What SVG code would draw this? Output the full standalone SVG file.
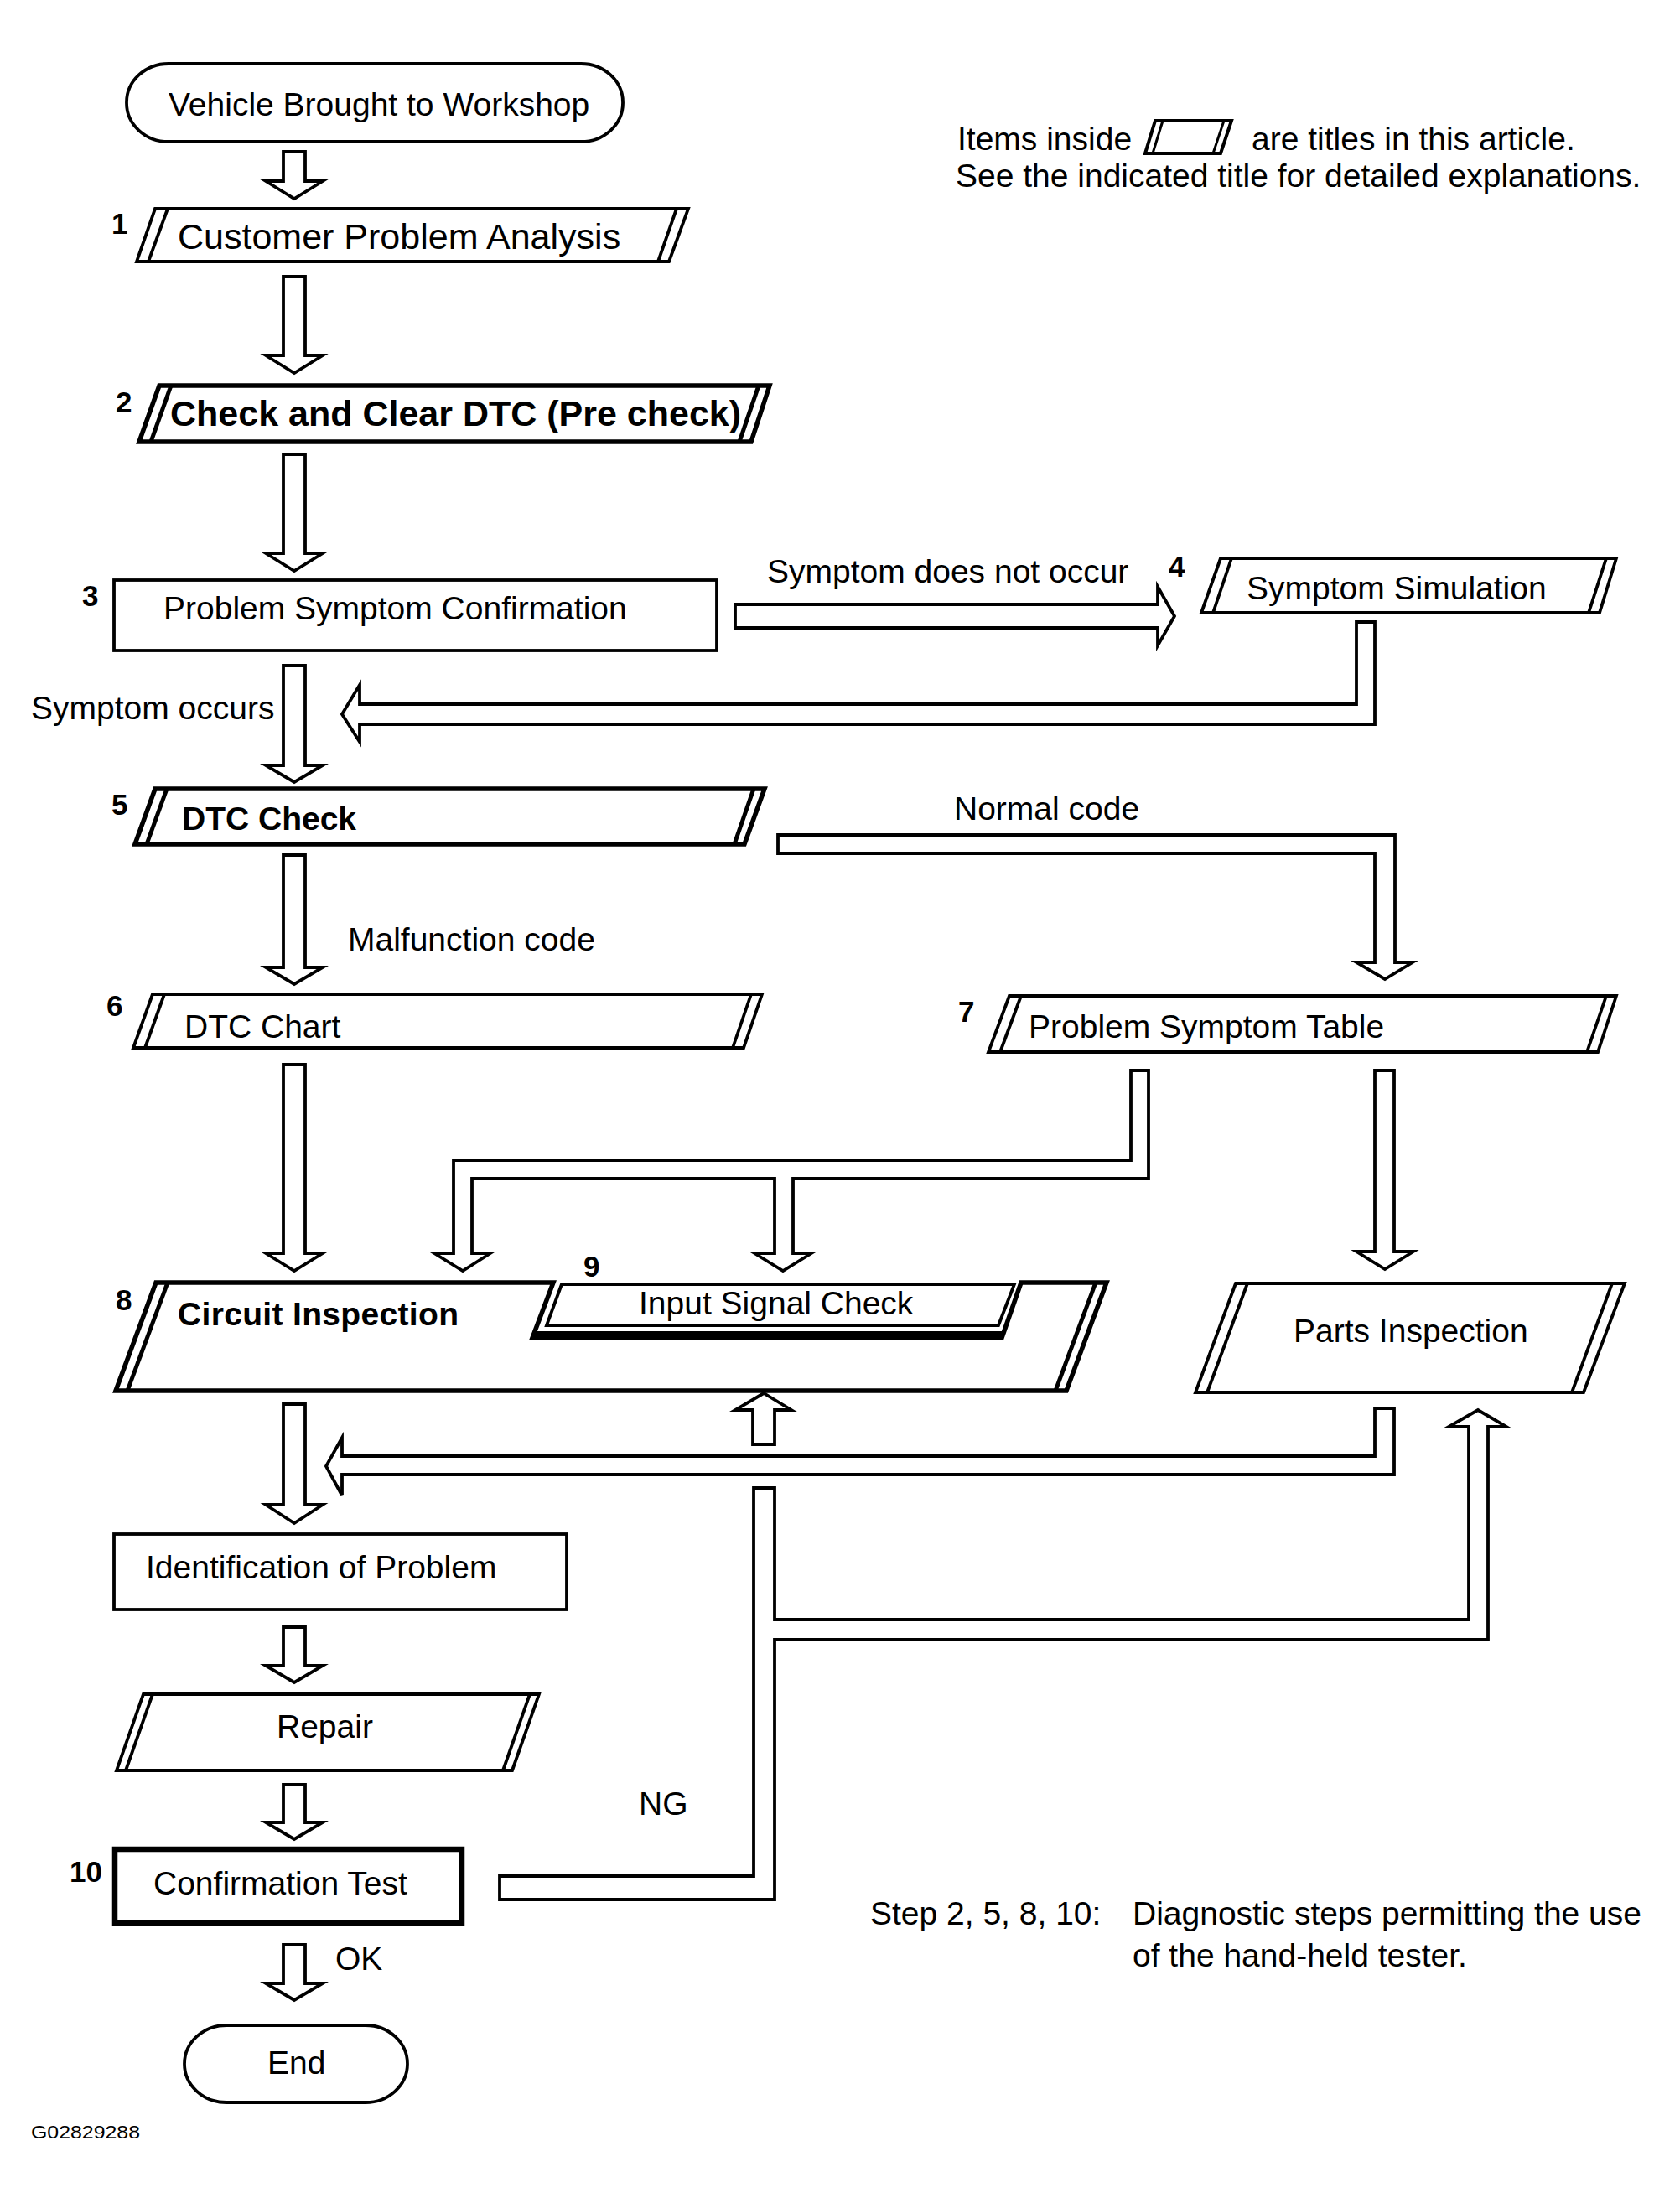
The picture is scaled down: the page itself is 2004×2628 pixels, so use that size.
<svg xmlns="http://www.w3.org/2000/svg" width="2004" height="2628" viewBox="0 0 2004 2628">
<style>
.bx{fill:#fff;stroke:#000;stroke-width:3.8;stroke-linejoin:miter}
.bb{fill:#fff;stroke:#000;stroke-width:5.5;stroke-linejoin:miter}
.ln{fill:none;stroke:#000;stroke-width:3.8}
.lb{fill:none;stroke:#000;stroke-width:5}
.ar{fill:#fff;stroke:#000;stroke-width:3.8;stroke-linejoin:miter}
.t{font-family:"Liberation Sans",Arial,Helvetica,sans-serif;font-size:39px;fill:#000}
.tb{font-family:"Liberation Sans",Arial,Helvetica,sans-serif;font-size:39px;font-weight:bold;fill:#000}
.n{font-family:"Liberation Sans",Arial,Helvetica,sans-serif;font-size:35px;font-weight:bold;fill:#000}
</style>
<rect width="2004" height="2628" fill="#fff"/>

<g id="connectors">
  <path class="ar" d="M338,181 L364,181 L364,216 L385,216 L351,237 L317,216 L338,216 Z"/>
  <path class="ar" d="M338,330 L364,330 L364,424 L385,424 L351,445 L317,424 L338,424 Z"/>
  <path class="ar" d="M338,542 L364,542 L364,660 L385,660 L351,681 L317,660 L338,660 Z"/>
  <path class="ar" d="M338,794 L364,794 L364,913 L385,913 L351,933 L317,913 L338,913 Z"/>
  <path class="ar" d="M338,1020 L364,1020 L364,1154 L385,1154 L351,1174 L317,1154 L338,1154 Z"/>
  <path class="ar" d="M338,1270 L364,1270 L364,1495 L385,1495 L351,1516 L317,1495 L338,1495 Z"/>
  <path class="ar" d="M338,1675 L364,1675 L364,1795 L385,1795 L351,1817 L317,1795 L338,1795 Z"/>
  <path class="ar" d="M338,1941 L364,1941 L364,1987 L385,1987 L351,2007 L317,1987 L338,1987 Z"/>
  <path class="ar" d="M338,2129 L364,2129 L364,2174 L385,2174 L351,2194 L317,2174 L338,2174 Z"/>
  <path class="ar" d="M338,2320 L364,2320 L364,2366 L385,2366 L351,2386 L317,2366 L338,2366 Z"/>
  <!-- Symptom does not occur -->
  <path class="ar" d="M877,721 L1381,721 L1381,700 L1401,735 L1381,770 L1381,749 L877,749 Z"/>
  <!-- back from Symptom Simulation -->
  <path class="ar" d="M1618,742 L1640,742 L1640,864 L429,864 L429,885 L408,852 L429,817 L429,840 L1618,840 Z"/>
  <!-- Normal code -->
  <path class="ar" d="M928,996 L1664,996 L1664,1148 L1685,1148 L1652,1168 L1618,1148 L1640,1148 L1640,1018 L928,1018 Z"/>
  <!-- Problem Symptom Table to Circuit / Input -->
  <path class="ar" d="M1349,1277 L1370,1277 L1370,1406 L946,1406 L946,1495 L968,1495 L934,1516 L900,1495 L924,1495 L924,1406 L563,1406 L563,1495 L585,1495 L552,1516 L518,1495 L541,1495 L541,1384 L1349,1384 Z"/>
  <!-- Problem Symptom Table to Parts -->
  <path class="ar" d="M1640,1277 L1663,1277 L1663,1493 L1686,1493 L1652,1514 L1618,1493 L1640,1493 Z"/>
  <!-- Parts back to main line -->
  <path class="ar" d="M1640,1680 L1663,1680 L1663,1759 L408,1759 L408,1784 L389,1749 L408,1715 L408,1737 L1640,1737 Z"/>
  <!-- small up arrow into Circuit Inspection -->
  <path class="ar" d="M898,1723 L924,1723 L924,1682 L944,1682 L911,1662 L877,1682 L898,1682 Z"/>
  <!-- NG feedback -->
  <path class="ar" d="M596,2238 L899,2238 L899,1775 L924,1775 L924,1932 L1752,1932 L1752,1702 L1728,1702 L1763,1682 L1797,1702 L1775,1702 L1775,1956 L924,1956 L924,2266 L596,2266 Z"/>
</g>

<g id="start">
  <rect class="bx" x="151" y="76" width="592" height="93" rx="50" ry="46"/>
  <text class="t" x="201" y="138">Vehicle Brought to Workshop</text>
</g>

<g id="legend">
  <text class="t" x="1142" y="179">Items inside</text>
  <polygon class="bx" points="1378,144 1469,144 1456,183 1366,183" style="stroke-width:4"/>
  <line class="ln" x1="1387" y1="144" x2="1375" y2="183" style="stroke-width:3"/>
  <line class="ln" x1="1460" y1="144" x2="1447" y2="183" style="stroke-width:3"/>
  <text class="t" x="1493" y="179">are titles in this article.</text>
  <text class="t" x="1140" y="223">See the indicated title for detailed explanations.</text>
</g>

<g id="step1">
  <polygon class="bx" points="185,249 821,249 798,312 163,312"/>
  <line class="ln" x1="200" y1="249" x2="177" y2="312"/>
  <line class="ln" x1="807" y1="249" x2="785" y2="312"/>
  <text class="n" x="133" y="279">1</text>
  <text class="t" x="212" y="297" style="font-size:43px">Customer Problem Analysis</text>
</g>

<g id="step2">
  <polygon class="bb" points="190,460 918,460 896,527 166,527"/>
  <line class="lb" x1="204" y1="460" x2="180" y2="527"/>
  <line class="lb" x1="905" y1="460" x2="882" y2="527"/>
  <text class="n" x="138" y="492">2</text>
  <text class="tb" x="203" y="508" style="font-size:43px">Check and Clear DTC (Pre check)</text>
</g>

<g id="step3">
  <rect class="bx" x="136" y="692" width="719" height="84"/>
  <text class="n" x="98" y="723">3</text>
  <text class="t" x="195" y="739">Problem Symptom Confirmation</text>
</g>

<g id="labels-3">
  <text class="t" x="915" y="695">Symptom does not occur</text>
  <text class="t" x="37" y="858">Symptom occurs</text>
</g>

<g id="step4">
  <polygon class="bx" points="1456,666 1928,666 1908,731 1433,731"/>
  <line class="ln" x1="1469" y1="666" x2="1447" y2="731"/>
  <line class="ln" x1="1916" y1="666" x2="1895" y2="731"/>
  <text class="n" x="1394" y="688">4</text>
  <text class="t" x="1487" y="715">Symptom Simulation</text>
</g>

<g id="step5">
  <polygon class="bb" points="185,941 912,941 888,1007 161,1007"/>
  <line class="lb" x1="199" y1="941" x2="175" y2="1007"/>
  <line class="lb" x1="899" y1="941" x2="876" y2="1007"/>
  <text class="n" x="133" y="972">5</text>
  <text class="tb" x="217" y="990">DTC Check</text>
</g>

<g id="labels-5">
  <text class="t" x="1138" y="978">Normal code</text>
  <text class="t" x="415" y="1134">Malfunction code</text>
</g>

<g id="step6">
  <polygon class="bx" points="182,1186 909,1186 887,1250 159,1250"/>
  <line class="ln" x1="196" y1="1186" x2="173" y2="1250"/>
  <line class="ln" x1="896" y1="1186" x2="874" y2="1250"/>
  <text class="n" x="127" y="1212">6</text>
  <text class="t" x="220" y="1238">DTC Chart</text>
</g>

<g id="step7">
  <polygon class="bx" points="1204,1188 1928,1188 1906,1255 1179,1255"/>
  <line class="ln" x1="1218" y1="1188" x2="1193" y2="1255"/>
  <line class="ln" x1="1916" y1="1188" x2="1893" y2="1255"/>
  <text class="n" x="1143" y="1219">7</text>
  <text class="t" x="1227" y="1238">Problem Symptom Table</text>
</g>

<g id="step8">
  <path class="bb" d="M186,1530 L660,1530 L635,1596 L1195,1596 L1218,1530 L1320,1530 L1272,1659 L138,1659 Z"/>
  <line class="lb" x1="200" y1="1530" x2="152" y2="1659"/>
  <line class="lb" x1="1307" y1="1530" x2="1259" y2="1659"/>
  <polygon points="637,1588 1198,1588 1194,1599 633,1599" fill="#000"/>
  <text class="n" x="138" y="1563">8</text>
  <text class="tb" x="212" y="1581" textLength="335" lengthAdjust="spacing">Circuit Inspection</text>
</g>

<g id="step9">
  <polygon class="bx" points="670,1532 1210,1532 1191,1581 652,1581"/>
  <text class="n" x="696" y="1523">9</text>
  <text class="t" x="762" y="1568">Input Signal Check</text>
</g>

<g id="parts">
  <polygon class="bx" points="1474,1531 1938,1531 1889,1661 1426,1661"/>
  <line class="ln" x1="1488" y1="1531" x2="1440" y2="1661"/>
  <line class="ln" x1="1923" y1="1531" x2="1875" y2="1661"/>
  <text class="t" x="1543" y="1601">Parts Inspection</text>
</g>

<g id="identification">
  <rect class="bx" x="136" y="1830" width="540" height="90"/>
  <text class="t" x="174" y="1883">Identification of Problem</text>
</g>

<g id="repair">
  <polygon class="bx" points="171,2021 643,2021 611,2112 139,2112"/>
  <line class="ln" x1="182" y1="2021" x2="150" y2="2112"/>
  <line class="ln" x1="632" y1="2021" x2="600" y2="2112"/>
  <text class="t" x="330" y="2073">Repair</text>
</g>

<g id="ng-label">
  <text class="t" x="762" y="2165">NG</text>
</g>

<g id="step10">
  <rect class="bb" x="137" y="2206" width="414" height="88" style="stroke-width:6.5"/>
  <text class="n" x="83" y="2245">10</text>
  <text class="t" x="183" y="2260">Confirmation Test</text>
</g>

<g id="ok-label">
  <text class="t" x="400" y="2350">OK</text>
</g>

<g id="end">
  <rect class="bx" x="220" y="2416" width="266" height="92" rx="50" ry="46"/>
  <text class="t" x="319" y="2474">End</text>
</g>

<g id="note">
  <text class="t" x="1038" y="2296">Step 2, 5, 8, 10:</text>
  <text class="t" x="1351" y="2296">Diagnostic steps permitting the use</text>
  <text class="t" x="1351" y="2346">of the hand-held tester.</text>
</g>

<g id="figure-id">
  <text class="t" x="37" y="2551" style="font-size:22px" textLength="130" lengthAdjust="spacingAndGlyphs">G02829288</text>
</g>
</svg>
